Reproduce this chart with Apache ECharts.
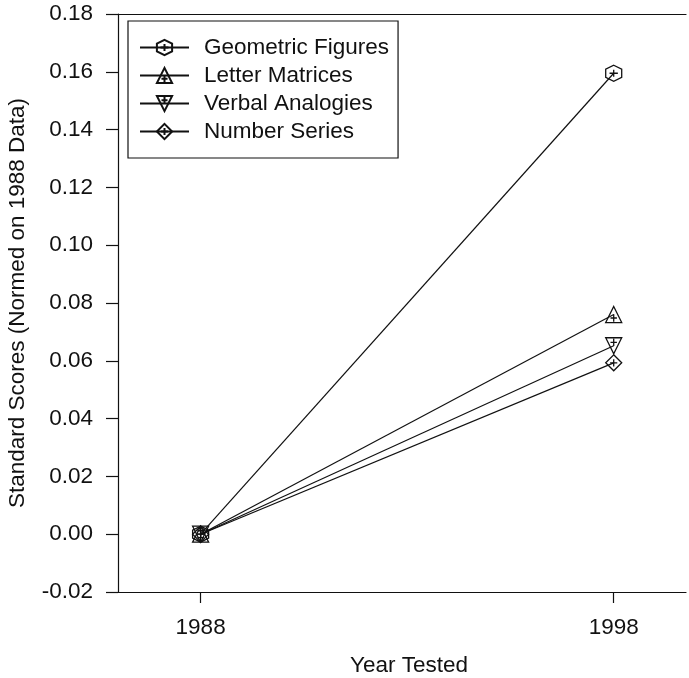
<!DOCTYPE html>
<html>
<head>
<meta charset="utf-8">
<script src="https://cdn.jsdelivr.net/npm/echarts@6/dist/echarts.min.js"></script>
<style>html,body{margin:0;padding:0;background:#fff}#c{width:689px;height:678px}</style>
</head>
<body>
<div id="c"></div>
<script>
const years = [1988, 1998];
const geometricFigures = [0, 0.1595];
const letterMatrices = [0, 0.076];
const verbalAnalogies = [0, 0.0652];
const numberSeries = [0, 0.0593];
const seriesNames = ['Geometric Figures', 'Letter Matrices', 'Verbal Analogies', 'Number Series'];
const yTicks = [-0.02, 0.18, 0.02];

const FONT = 'Liberation Sans, Arial, sans-serif';
const FS = 22.5;
const INK = '#111';
const symHex = 'path://M0,-1 L0.866,-0.5 L0.866,0.5 L0,1 L-0.866,0.5 L-0.866,-0.5 Z M-0.45,0 L0.45,0 M0,-0.45 L0,0.45';
const symTri = 'path://M0,-1 L1,0.75 L-1,0.75 Z M-0.4,0.25 L0.4,0.25 M0,-0.15 L0,0.65';
const symInv = 'path://M-1,-0.75 L1,-0.75 L0,1 Z M-0.4,-0.25 L0.4,-0.25 M0,-0.65 L0,0.15';
const symDia = 'path://M0,-1 L1,0 L0,1 L-1,0 Z M-0.45,0 L0.45,0 M0,-0.45 L0,0.45';
const symbols = [symHex, symTri, symInv, symDia];
const values = [geometricFigures, letterMatrices, verbalAnalogies, numberSeries];

function mk(i) {
  return {
    name: seriesNames[i],
    type: 'line',
    data: years.map((y, k) => [y, values[i][k]]),
    symbol: symbols[i],
    symbolSize: 16,
    lineStyle: { color: INK, width: 1.2 },
    itemStyle: { color: 'rgba(255,255,255,0)', borderColor: INK, borderWidth: 1.3 },
    emphasis: { disabled: true },
    z: 3
  };
}

const chart = echarts.init(document.getElementById('c'), null, { renderer: 'canvas' });
chart.setOption({
  animation: false,
  backgroundColor: '#fff',
  textStyle: { fontFamily: FONT, color: INK },
  grid: { left: 118, right: 3, top: 14, bottom: 86, containLabel: false, outerBoundsMode: 'none' },
  legend: {
    left: 128, top: 21,
    orient: 'vertical',
    padding: [15, 9, 15, 11],
    itemGap: 5,
    itemWidth: 49,
    itemHeight: 19,
    borderColor: INK, borderWidth: 1.2,
    backgroundColor: '#fff',
    data: seriesNames,
    textStyle: { fontFamily: FONT, fontSize: FS, color: INK, lineHeight: 22, padding: [0, 0, 0, 10] },
    selectedMode: false
  },
  xAxis: [{
    type: 'value',
    min: 1986, max: 1999.75,
    name: 'Year Tested',
    nameLocation: 'middle',
    nameGap: 62,
    nameTextStyle: { fontFamily: FONT, fontSize: FS, color: INK, padding: [0, 0, 0, 14] },
    axisLine: { show: true, onZero: false, lineStyle: { color: INK, width: 1.2 } },
    axisTick: { show: true, inside: false, length: 11, customValues: years, lineStyle: { color: INK, width: 1.2 } },
    axisLabel: { show: true, customValues: years, margin: 24, fontFamily: FONT, fontSize: FS, color: INK, formatter: v => String(v) },
    splitLine: { show: false }
  }, {
    type: 'value',
    position: 'top',
    min: 1986, max: 1999.75,
    axisLine: { show: true, onZero: false, lineStyle: { color: INK, width: 1.2 } },
    axisTick: { show: false },
    axisLabel: { show: false },
    splitLine: { show: false }
  }],
  yAxis: {
    type: 'value',
    min: yTicks[0], max: yTicks[1], interval: yTicks[2],
    name: 'Standard Scores (Normed on 1988 Data)',
    nameLocation: 'middle',
    nameGap: 89,
    nameTextStyle: { fontFamily: FONT, fontSize: FS, color: INK },
    axisLine: { show: true, onZero: false, lineStyle: { color: INK, width: 1.2 } },
    axisTick: { show: true, inside: false, length: 12, lineStyle: { color: INK, width: 1.2 } },
    axisLabel: { margin: 25, fontFamily: FONT, fontSize: FS, color: INK, formatter: v => v.toFixed(2) },
    splitLine: { show: false }
  },
  series: [mk(0), mk(1), mk(2), mk(3)]
});
</script>
</body>
</html>
